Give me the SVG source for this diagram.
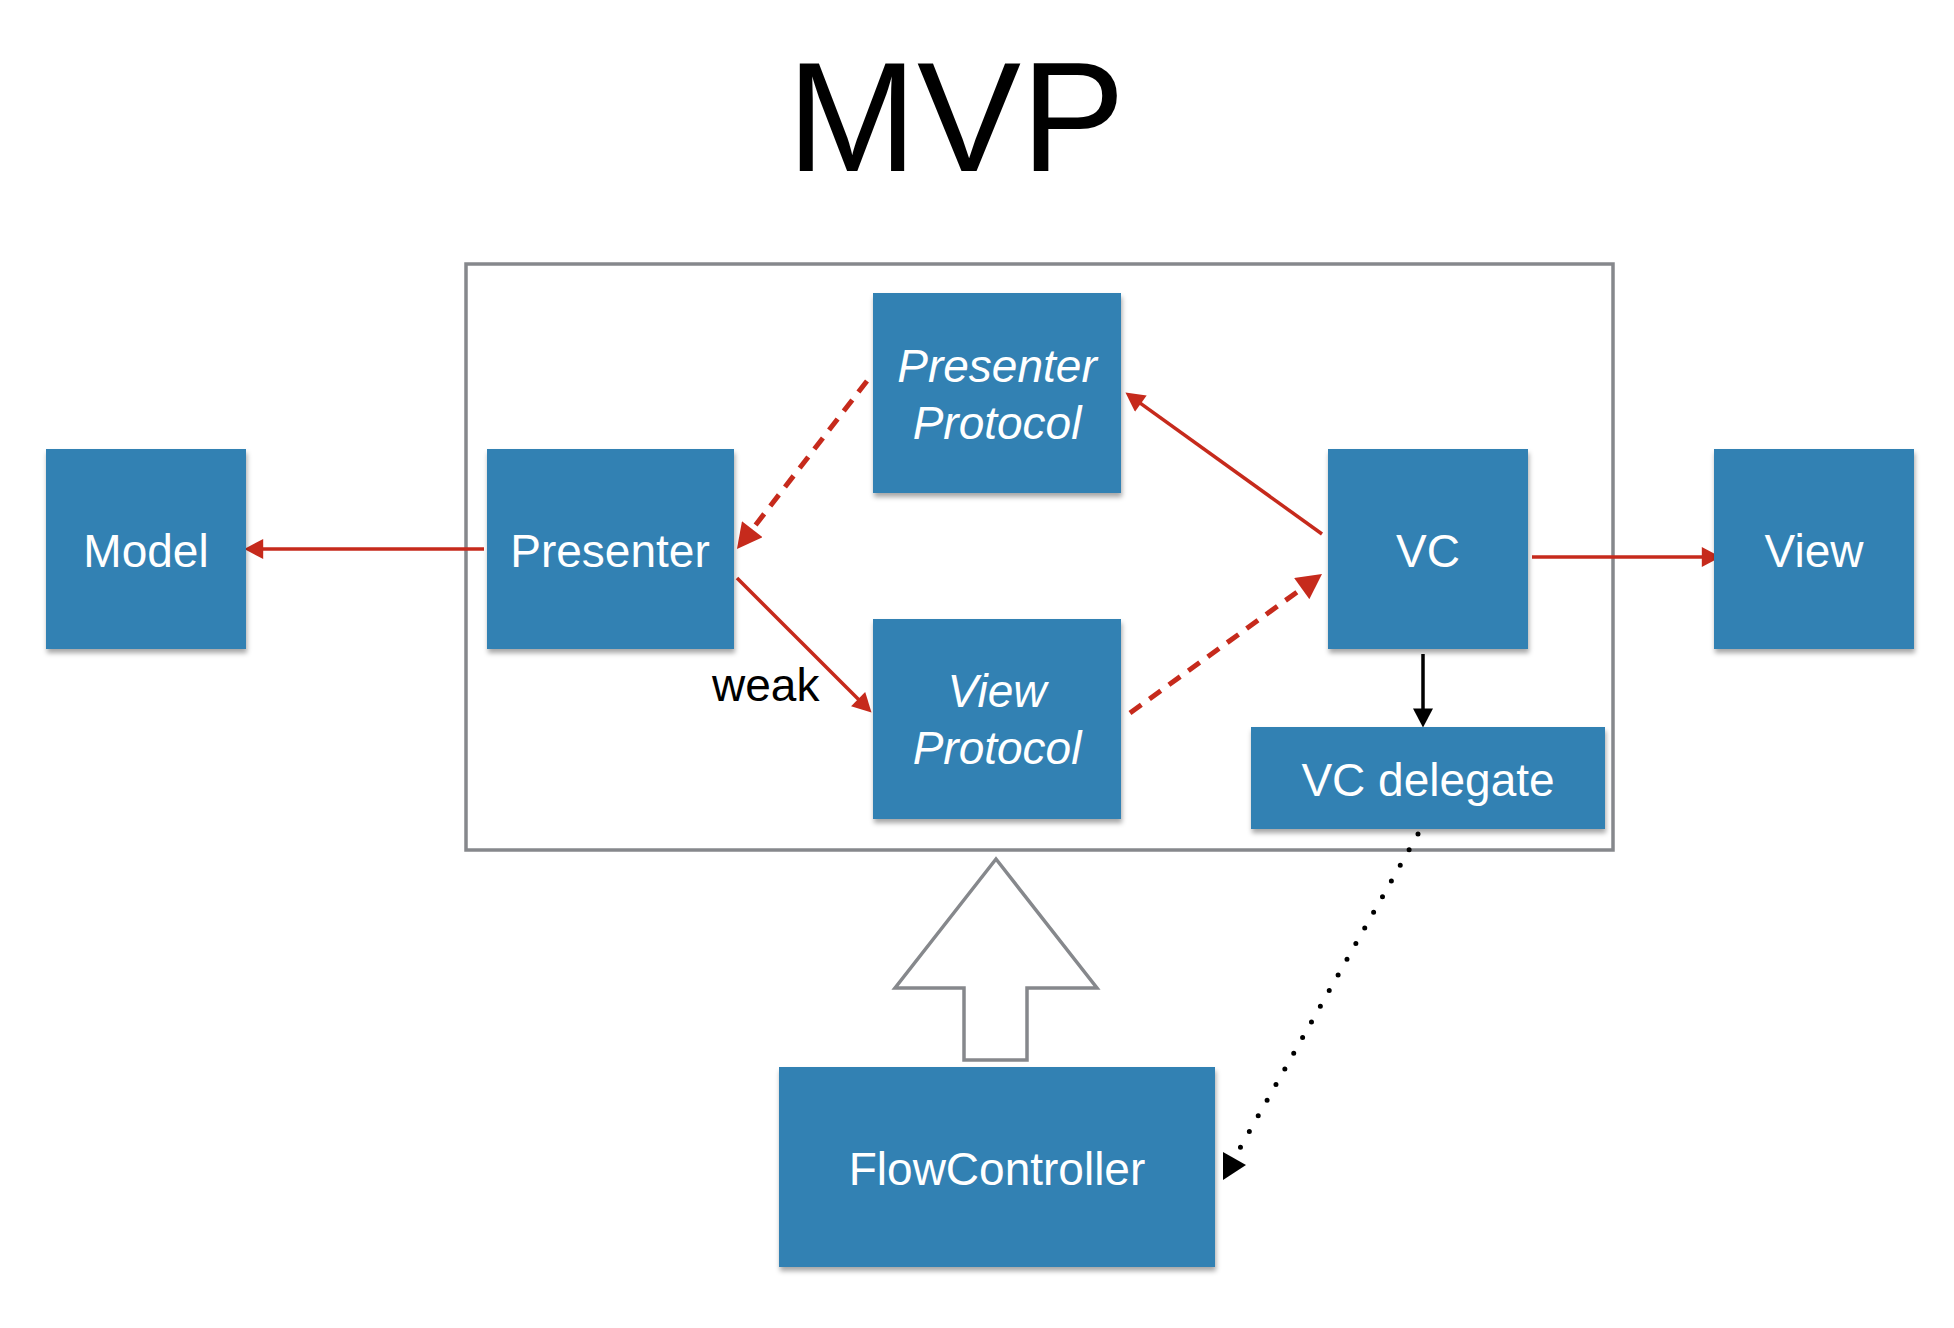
<svg xmlns="http://www.w3.org/2000/svg" width="1954" height="1328" viewBox="0 0 1954 1328">
<style>
.box{fill:#3281b3;filter:url(#sh)}
.lbl{font-family:"Helvetica Neue","Liberation Sans",Arial,sans-serif;font-size:46px;fill:#ffffff;text-anchor:middle}
.it{font-style:italic}
.red{fill:none;stroke:#c62a1c;stroke-width:3.5}
.reddash{fill:none;stroke:#c62a1c;stroke-width:5;stroke-dasharray:14 10}
.frame{fill:none;stroke:#86888c;stroke-width:3.5}
</style>
<defs>
<filter id="sh" x="-10%" y="-10%" width="120%" height="125%">
<feDropShadow dx="1" dy="4" stdDeviation="2.5" flood-color="#000" flood-opacity="0.35"/>
</filter>
<marker id="ah" markerUnits="userSpaceOnUse" markerWidth="20" markerHeight="20" refX="4" refY="9.5" orient="auto" viewBox="0 0 18 19">
<path d="M0,0 L18,9.5 L0,19 Z" fill="#c62a1c"/>
</marker>
<marker id="ahd" markerUnits="userSpaceOnUse" markerWidth="26" markerHeight="26" refX="5" refY="13" orient="auto" viewBox="0 0 25 26">
<path d="M0,0 L25,13 L0,26 Z" fill="#c62a1c"/>
</marker>
<marker id="ahk" markerUnits="userSpaceOnUse" markerWidth="20" markerHeight="20" refX="4" refY="9" orient="auto" viewBox="0 0 17 18">
<path d="M0,0 L17,9 L0,18 Z" fill="#000"/>
</marker>
</defs>
<rect width="1954" height="1328" fill="#ffffff"/>
<text x="956" y="171" font-family="'Helvetica Neue','Liberation Sans',Arial,sans-serif" font-size="156" text-anchor="middle" fill="#000">MVP</text>
<rect id="frame" class="frame" x="466" y="264" width="1147" height="586"/>
<polygon id="inherit-arrow" class="frame" fill="#ffffff" points="996,859 1097,988 1027,988 1027,1060 964,1060 964,988 895,988"/>
<g id="connectors">
<path class="red" d="M484,549 L259,549" marker-end="url(#ah)"/>
<path class="reddash" d="M867,381 L749.2,533.2" marker-end="url(#ahd)"/>
<path class="red" d="M737,578 L861.1,702.1" marker-end="url(#ah)"/>
<path class="red" d="M1322,534 L1137.4,401.2" marker-end="url(#ah)"/>
<path class="reddash" d="M1130,713 L1305.8,585.7" marker-end="url(#ahd)"/>
<path class="red" d="M1532,557 L1706,557" marker-end="url(#ah)"/>
<path d="M1423,654 L1423,713" fill="none" stroke="#000" stroke-width="3.5" marker-end="url(#ahk)"/>
<path d="M1418,834 L1240,1148" fill="none" stroke="#000" stroke-width="5" stroke-linecap="round" stroke-dasharray="0 18"/>
<polygon points="1223,1152 1246,1165 1223,1180" fill="#000"/>
<text x="712" y="701" font-family="'Helvetica Neue','Liberation Sans',Arial,sans-serif" font-size="46" fill="#000">weak</text>
</g>
<g id="model">
<rect class="box" x="46" y="449" width="200" height="200"/>
<text class="lbl" x="146" y="567">Model</text>
</g>
<g id="presenter">
<rect class="box" x="487" y="449" width="247" height="200"/>
<text class="lbl" x="610" y="567">Presenter</text>
</g>
<g id="presenter-protocol">
<rect class="box" x="873" y="293" width="248" height="200"/>
<text class="lbl it" x="997" y="382">Presenter</text>
<text class="lbl it" x="997" y="439">Protocol</text>
</g>
<g id="view-protocol">
<rect class="box" x="873" y="619" width="248" height="200"/>
<text class="lbl it" x="997" y="707">View</text>
<text class="lbl it" x="997" y="764">Protocol</text>
</g>
<g id="vc">
<rect class="box" x="1328" y="449" width="200" height="200"/>
<text class="lbl" x="1428" y="567">VC</text>
</g>
<g id="view">
<rect class="box" x="1714" y="449" width="200" height="200"/>
<text class="lbl" x="1814" y="567">View</text>
</g>
<g id="vc-delegate">
<rect class="box" x="1251" y="727" width="354" height="102"/>
<text class="lbl" x="1428" y="796">VC delegate</text>
</g>
<g id="flowcontroller">
<rect class="box" x="779" y="1067" width="436" height="200"/>
<text class="lbl" x="997" y="1185">FlowController</text>
</g>
</svg>
